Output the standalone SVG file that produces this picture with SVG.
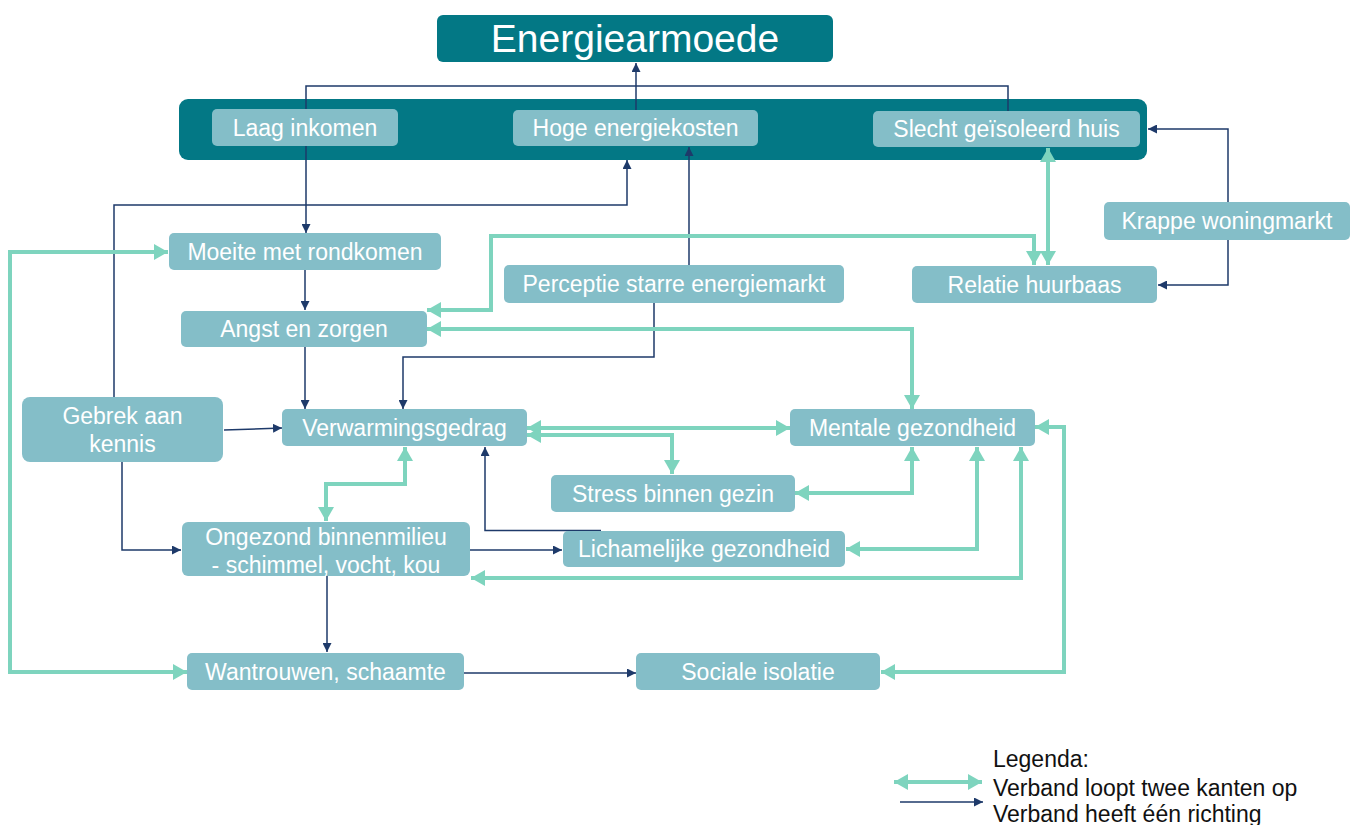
<svg xmlns="http://www.w3.org/2000/svg" width="1356" height="825" viewBox="0 0 1356 825">
<defs>
<style>
.bg{fill:#ffffff}
.title{fill:#037885}
.box{fill:#84BEC8}
.t{font-family:"Liberation Sans",Arial,sans-serif;font-size:23px;fill:#ffffff;text-anchor:middle}
.tt{font-family:"Liberation Sans",Arial,sans-serif;font-size:39px;fill:#ffffff;text-anchor:middle}
.lg{font-family:"Liberation Sans",Arial,sans-serif;font-size:23px;fill:#111111}
.n{fill:none;stroke:#1E3A6A;stroke-width:1.5;marker-end:url(#na)}
.g{fill:none;stroke:#7ED4BE;stroke-width:4;marker-start:url(#ga);marker-end:url(#ga)}
</style>
<marker id="na" viewBox="0 0 10 10" refX="10" refY="5" markerWidth="9" markerHeight="9" markerUnits="userSpaceOnUse" orient="auto"><path d="M0,0 L10,5 L0,10 z" fill="#1E3A6A"/></marker>
<marker id="ga" viewBox="0 0 14 16" refX="14" refY="8" markerWidth="14" markerHeight="16" markerUnits="userSpaceOnUse" orient="auto-start-reverse"><path d="M0,0 L14,8 L0,16 z" fill="#7ED4BE"/></marker>
</defs>
<rect class="bg" x="0" y="0" width="1356" height="825"/>
<g id="title"><rect class="title" x="437" y="15" width="396" height="47" rx="6"/><text class="tt" x="635" y="52">Energiearmoede</text></g>
<g id="band"><rect class="title" x="179" y="99" width="968" height="61" rx="9"/></g>
<g id="connectors">
<path class="n" d="M636,110 V63"/>
<path class="n" d="M1008,111 V86 H306 V233"/>
<path class="n" d="M114,397 V205 H627 V160"/>
<path class="n" d="M689,265 V147"/>
<path class="n" d="M1228,202 V129 H1148"/>
<path class="n" d="M1228,240 V285 H1158"/>
<path class="n" d="M305,270 V310"/>
<path class="n" d="M305,347 V409"/>
<path class="n" d="M654,303 V357 H403 V409"/>
<path class="n" d="M224,430 L282,428"/>
<path class="n" d="M122,462 V550 H181"/>
<path class="n" d="M470,550 H562"/>
<path class="n" d="M601,530.5 H485 V447"/>
<path class="n" d="M327,576 V652"/>
<path class="n" d="M464,673 H636"/>
<path class="g" d="M168,252 H10 V672 H187"/>
<path class="g" d="M427,310 H491 V236 H1034 V265"/>
<path class="g" d="M1048,148 V265"/>
<path class="g" d="M427,329 H912 V409"/>
<path class="g" d="M527,428 H790"/>
<path class="g" d="M527,435 H672 V474"/>
<path class="g" d="M405,447 V484 H326 V521"/>
<path class="g" d="M795,493 H912 V447"/>
<path class="g" d="M846,549 H977 V447"/>
<path class="g" d="M471,578 H1021 V447"/>
<path class="g" d="M881,672 H1064 V427 H1035"/>
</g>
<g id="laag"><rect class="box" x="212" y="109" width="186" height="37" rx="5"/><text class="t" x="305" y="135.5">Laag inkomen</text></g>
<g id="hoge"><rect class="box" x="513" y="110" width="245" height="36" rx="5"/><text class="t" x="635.5" y="136">Hoge energiekosten</text></g>
<g id="slecht"><rect class="box" x="873" y="111" width="267" height="36" rx="5"/><text class="t" x="1006.5" y="137">Slecht geïsoleerd huis</text></g>
<g id="krappe"><rect class="box" x="1104" y="202" width="246" height="38" rx="5"/><text class="t" x="1227" y="229">Krappe woningmarkt</text></g>
<g id="relatie"><rect class="box" x="912" y="266" width="245" height="37" rx="5"/><text class="t" x="1034.5" y="292.5">Relatie huurbaas</text></g>
<g id="moeite"><rect class="box" x="169" y="233" width="272" height="37" rx="5"/><text class="t" x="305" y="259.5">Moeite met rondkomen</text></g>
<g id="perceptie"><rect class="box" x="504" y="265" width="340" height="38" rx="5"/><text class="t" x="674" y="292">Perceptie starre energiemarkt</text></g>
<g id="angst"><rect class="box" x="181" y="311" width="246" height="36" rx="5"/><text class="t" x="304" y="337">Angst en zorgen</text></g>
<g id="gebrek"><rect class="box" x="22" y="397" width="201" height="65" rx="8"/><text class="t" x="122.5" y="424">Gebrek aan</text><text class="t" x="122.5" y="452">kennis</text></g>
<g id="verwarming"><rect class="box" x="282" y="409" width="245" height="37" rx="5"/><text class="t" x="404.5" y="435.5">Verwarmingsgedrag</text></g>
<g id="mentale"><rect class="box" x="790" y="409" width="245" height="37" rx="5"/><text class="t" x="912.5" y="435.5">Mentale gezondheid</text></g>
<g id="stress"><rect class="box" x="551" y="475" width="244" height="37" rx="5"/><text class="t" x="673" y="501.5">Stress binnen gezin</text></g>
<g id="ongezond"><rect class="box" x="182" y="522" width="288" height="54" rx="6"/><text class="t" x="326" y="545">Ongezond binnenmilieu</text><text class="t" x="326" y="573">- schimmel, vocht, kou</text></g>
<g id="lichamelijke"><rect class="box" x="563" y="531" width="282" height="36" rx="5"/><text class="t" x="704" y="557">Lichamelijke gezondheid</text></g>
<g id="wantrouwen"><rect class="box" x="187" y="653" width="277" height="37" rx="5"/><text class="t" x="325.5" y="679.5">Wantrouwen, schaamte</text></g>
<g id="sociale"><rect class="box" x="636" y="653" width="244" height="37" rx="5"/><text class="t" x="758" y="679.5">Sociale isolatie</text></g>
<g id="legend">
<path class="g" d="M894,782 H982"/>
<path class="n" d="M900,802 H983"/>
<text class="lg" x="993" y="767">Legenda:</text>
<text class="lg" x="993" y="796">Verband loopt twee kanten op</text>
<text class="lg" x="993" y="822">Verband heeft één richting</text>
</g>
</svg>
